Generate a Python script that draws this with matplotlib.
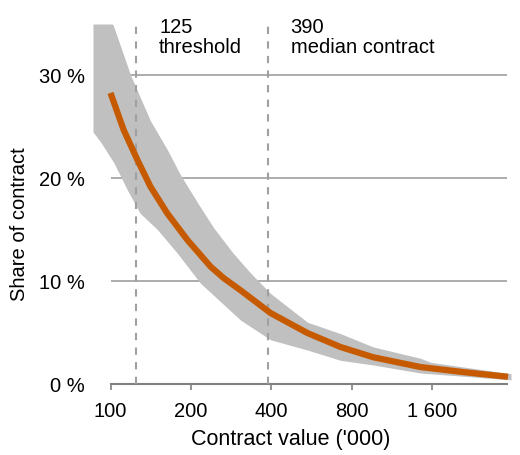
import numpy as np
import matplotlib
matplotlib.use("Agg")
import matplotlib.pyplot as plt
import matplotlib.transforms as mtransforms
from matplotlib.ticker import FixedLocator, NullLocator

plt.rcParams['font.family'] = ['Liberation Sans', 'DejaVu Sans']

# central estimate (orange line), share of contract in %
line_x = [100, 112, 126, 141, 163, 194, 237, 265, 307, 397, 546, 725, 962,
          1444, 2100, 3070]
line_y = [28.3, 24.7, 21.8, 19.2, 16.6, 14.0, 11.4, 10.3, 9.1, 6.9, 4.95, 3.6,
          2.6, 1.65, 1.15, 0.7]

# grey band of simulated curves (visible part, top clipped at 35 %)
band_hi_x = [86, 102, 119, 141, 163, 183, 212, 243, 288, 334, 397, 546, 725,
             962, 1444, 1580, 3150]
band_hi = [35, 35, 30, 25.6, 22.8, 20.3, 17.6, 15.2, 12.7, 10.8, 8.8, 6.0,
           4.9, 3.6, 2.5, 2.1, 1.0]
band_lo_x = [86, 92, 103, 116, 129, 150, 178, 217, 307, 397, 546, 725, 962,
             1444, 3150]
band_lo = [24.5, 23.5, 21.5, 18.8, 16.6, 15.0, 12.7, 9.8, 6.2, 4.3, 3.3, 2.3,
           1.85, 1.07, 0.4]

x_ticks = [100, 200, 400, 800, 1600]
x_labels = ["100", "200", "400", "800", "1 600"]
y_ticks = [0, 10, 20, 30]
y_labels = ["0 %", "10 %", "20 %", "30 %"]

marks = [125, 390]
mark_text = ["125\nthreshold", "390\nmedian contract"]
mark_text_x = [152, 472]

FS = 14.5

fig = plt.figure(figsize=(5.2, 4.55), dpi=100)
ax = fig.add_axes([93 / 520, 71 / 455, (511 - 93) / 520, 360 / 455])
ax.set_xscale("log", base=2)
ax.set_xlim(86, 3150)
ax.set_ylim(0, 35)

# band: both edges on one common x grid (straight segments in log-x)
bx = np.exp(np.linspace(np.log(86), np.log(3150), 400))
hi = np.interp(np.log(bx), np.log(band_hi_x), band_hi)
lo = np.interp(np.log(bx), np.log(band_lo_x), band_lo)
ax.fill_between(bx, lo, hi, color="#c0c0c0", lw=0, zorder=2)

for yv in y_ticks[1:]:
    ax.hlines(yv, 100, 3050, color="#a6a6a6", lw=1.3, zorder=1)

for m in marks:
    ax.axvline(m, color="#a0a0a0", lw=1.5, ls=(0, (3.5, 3.5)), zorder=3)

ax.plot(line_x, line_y, color="#C65A00", lw=4.5, solid_capstyle="butt",
        solid_joinstyle="round", zorder=4)

trans = mtransforms.blended_transform_factory(ax.transData, ax.transAxes)
for tx, t in zip(mark_text_x, mark_text):
    ax.text(tx, 1.018, t, transform=trans, ha="left", va="top",
            fontsize=FS, linespacing=1.1, color="black")

for s in ["top", "right", "left"]:
    ax.spines[s].set_visible(False)
ax.spines["bottom"].set_bounds(100, 3050)
ax.spines["bottom"].set_color("#808080")
ax.spines["bottom"].set_linewidth(1.5)

ax.xaxis.set_major_locator(FixedLocator(x_ticks))
ax.xaxis.set_minor_locator(NullLocator())
ax.set_xticklabels(x_labels)
ax.set_yticks(y_ticks)
ax.set_yticklabels(y_labels)
ax.tick_params(axis="x", length=4, width=1.2, color="#808080", pad=9,
               labelsize=FS, labelcolor="black")
ax.tick_params(axis="y", length=0, pad=6, labelsize=FS, labelcolor="black")

fig.text(291 / 520, 1 - 440 / 455, "Contract value ('000)", ha="center",
         va="center", fontsize=15.5, color="black")
fig.text(20 / 520, 1 - 224 / 455, "Share of contract", rotation=90,
         ha="center", va="center", fontsize=FS, color="black")

fig.savefig("out.png", dpi=100)
